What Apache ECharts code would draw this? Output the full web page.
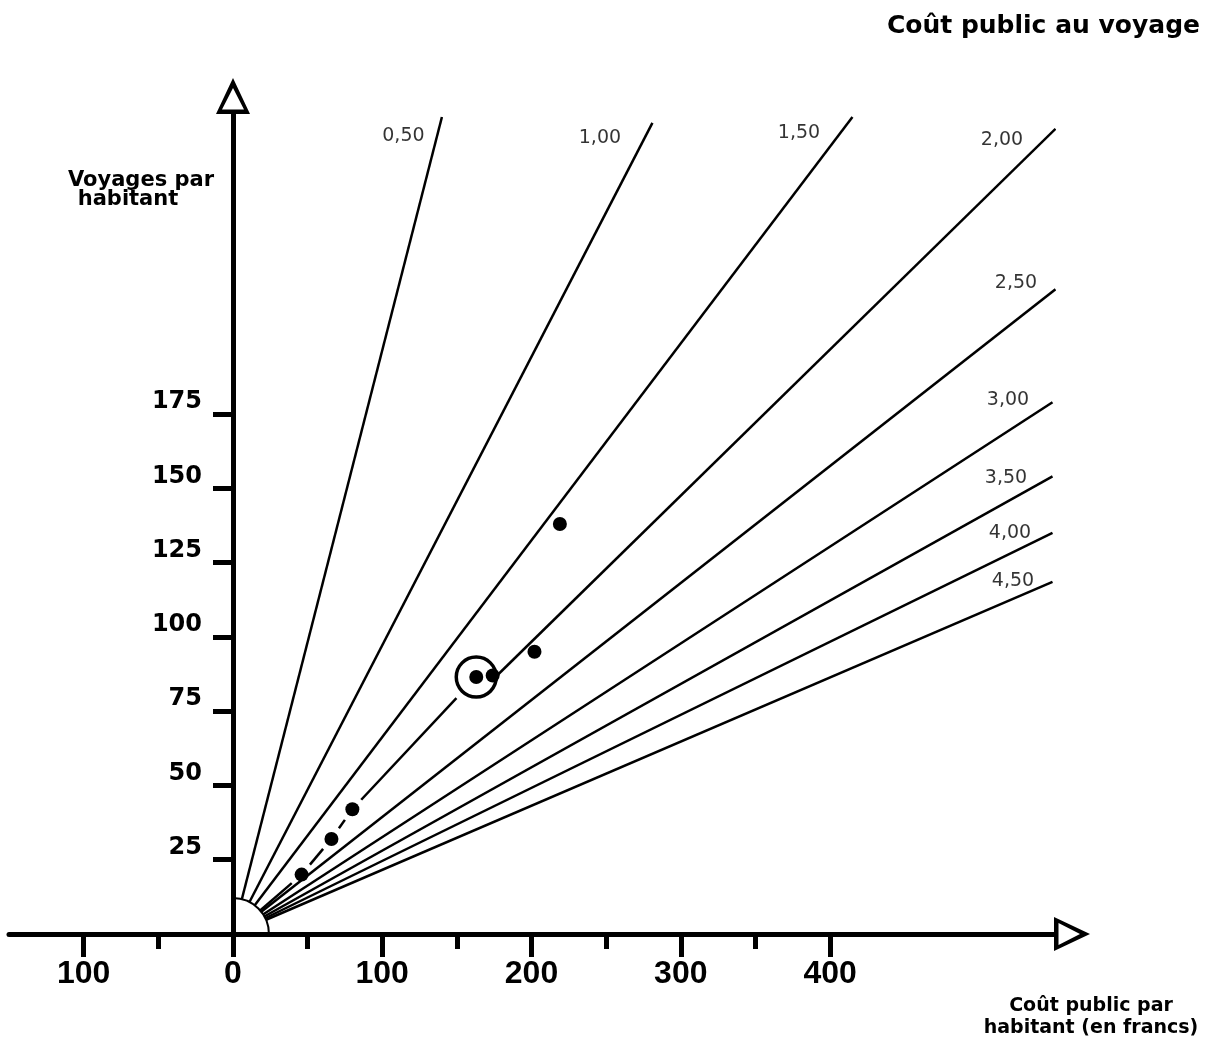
<!DOCTYPE html>
<html><head><meta charset="utf-8">
<script src="https://cdn.jsdelivr.net/npm/echarts@6/dist/echarts.min.js"></script>
<style>html,body{margin:0;padding:0;background:#fff}#c{width:1219px;height:1042px}</style>
</head><body><div id="c"></div>
<script>
// ---- data ----
const costLabels = ['0,50', '1,00', '1,50', '2,00', '2,50', '3,00', '3,50', '4,00', '4,50'];
const lineEndX = [140, 281, 415, 551, 551, 549, 549, 549, 549];
const lineEndY = [275, 273, 275, 271, 217, 179, 154, 135, 118.5];
const pointX = [46, 66, 80, 163, 174, 202, 219];
const pointY = [20, 32, 42, 86.5, 87, 95, 138];
const circledIndex = 3;        // the ringed town
const brokenLineIndex = 3;     // the 2,00 line is broken (dashes through the points) below the ring
const xMajorTicks = [-100, 0, 100, 200, 300, 400];
const xMinorTicks = [-50, 50, 150, 250, 350];
const yTicks = [25, 50, 75, 100, 125, 150, 175];

// ---- styling ----
const labelOffsets = [[-38, 20], [-52, 16], [-53, 17], [-53, 12], [-39, -6], [-44, -2], [-46, 2], [-42, 1], [-39, 0]];
const ARROW = 'path://M17,0 L34,36 L0,36 Z M17,10 L6,31.5 L28,31.5 Z';
const BOLD = '"DejaVu Sans", sans-serif';
const RING = 40, DOT = 14;

const chart = echarts.init(document.getElementById('c'), null, {renderer: 'canvas'});

const series = [];
costLabels.forEach(function (lab, i) {
  let data = [[0, 0], [lineEndX[i], lineEndY[i]]];
  if (i === brokenLineIndex) {
    // solid part starts where the line leaves the ring
    const sx = pointX[circledIndex + 1];
    data = [[sx, sx * lineEndY[i] / lineEndX[i]], [lineEndX[i], lineEndY[i]]];
  }
  series.push({
    type: 'line', name: lab, silent: true, symbol: 'none', z: 2, clip: false,
    lineStyle: {color: '#000', width: 2.5},
    data: data
  });
});
// broken part: dashes joining origin -> points -> ring
const chain = [[0, 0]].concat(pointX.slice(0, circledIndex + 1).map(function (x, i) { return [x, pointY[i]]; }));
series.push({
  type: 'custom', silent: true, z: 2, clip: false,
  data: chain,
  renderItem: function (params, api) {
    const i = params.dataIndex;
    if (i === 0) return null;
    const a = api.coord(chain[i - 1]);
    const b = api.coord(chain[i]);
    const dx = b[0] - a[0], dy = b[1] - a[1];
    const len = Math.sqrt(dx * dx + dy * dy);
    const ux = dx / len, uy = dy / len;
    const ta = i - 1 === 0 ? 0 : 13;
    const tb = i === chain.length - 1 ? 29 : 13;
    return {
      type: 'line',
      shape: {x1: a[0] + ux * ta, y1: a[1] + uy * ta, x2: b[0] - ux * tb, y2: b[1] - uy * tb},
      style: {stroke: '#000', lineWidth: 2.5}
    };
  }
});
series.push({
  type: 'scatter', silent: true, symbolSize: 1, z: 2, clip: false,
  itemStyle: {color: 'rgba(0,0,0,0)'},
  labelLayout: {hideOverlap: false},
  data: costLabels.map(function (lab, i) {
    return {
      value: [lineEndX[i], lineEndY[i]],
      label: {show: true, position: labelOffsets[i], align: 'center', verticalAlign: 'middle', formatter: lab,
        color: '#000', fontFamily: '"DejaVu Sans", sans-serif', fontSize: 19}
    };
  })
});
// quarter disc at the origin
series.push({
  type: 'custom', silent: true, z: 3, clip: false,
  data: [[0, 0]],
  renderItem: function (params, api) {
    const c = api.coord([api.value(0), api.value(1)]);
    return {
      type: 'sector',
      shape: {cx: c[0], cy: c[1], r0: 0, r: 36, startAngle: -Math.PI / 2, endAngle: 0},
      style: {fill: '#fff', stroke: '#000', lineWidth: 2}
    };
  }
});
// ring round the highlighted point
series.push({
  type: 'scatter', silent: true, z: 4, symbol: 'circle', symbolSize: RING,
  itemStyle: {color: '#fff', borderColor: '#000', borderWidth: 3.5, opacity: 1},
  data: [[pointX[circledIndex], pointY[circledIndex]]]
});
series.push({
  type: 'scatter', silent: true, z: 5, symbol: 'circle', symbolSize: DOT,
  itemStyle: {color: '#000', opacity: 1},
  data: pointX.map(function (x, i) { return [x, pointY[i]]; })
});

const option = {
  backgroundColor: '#fff',
  animation: false,
  grid: {left: 9, right: 165, top: 114, bottom: 108, containLabel: false, outerBoundsMode: 'none'},
  xAxis: [{
    type: 'value', min: -150, max: 550, position: 'bottom', z: 10,
    axisLine: {show: true, onZero: true, lineStyle: {color: '#000', width: 5, cap: 'round'},
      symbol: ['none', ARROW], symbolSize: [34, 36], symbolOffset: [0, 18]},
    axisTick: {show: true, customValues: xMajorTicks, length: 23, lineStyle: {color: '#000', width: 5}},
    axisLabel: {show: true, customValues: xMajorTicks, margin: 24, formatter: function (v) { return String(Math.abs(v)); },
      color: '#000', fontFamily: '"Liberation Sans", sans-serif', fontWeight: 'bold', fontSize: 32},
    splitLine: {show: false}
  }, {
    type: 'value', min: -150, max: 550, position: 'bottom', z: 10,
    axisLine: {show: false},
    axisTick: {show: true, customValues: xMinorTicks, length: 15, lineStyle: {color: '#000', width: 5}},
    axisLabel: {show: false},
    splitLine: {show: false}
  }],
  yAxis: {
    type: 'value', min: 0, max: 276, z: 10, position: 'left', offset: -224,
    axisLine: {show: true, onZero: false, lineStyle: {color: '#000', width: 5},
      symbol: ['none', ARROW], symbolSize: [34, 36], symbolOffset: [0, 18]},
    axisTick: {show: true, customValues: yTicks, length: 20, lineStyle: {color: '#000', width: 5}},
    axisLabel: {show: true, customValues: yTicks, margin: 31, verticalAlign: 'bottom',
      color: '#000', fontFamily: BOLD, fontWeight: 'bold', fontSize: 24},
    splitLine: {show: false}
  },
  graphic: [
    {type: 'text', x: 1200, y: 26, silent: true,
      style: {text: 'Coût public au voyage', font: 'bold 25px "DejaVu Sans"', fill: '#000', textAlign: 'right', textVerticalAlign: 'middle'}},
    {type: 'text', x: 141, y: 181, silent: true,
      style: {text: 'Voyages par', font: 'bold 21px "DejaVu Sans"', fill: '#000', textAlign: 'center', textVerticalAlign: 'middle'}},
    {type: 'text', x: 128, y: 200, silent: true,
      style: {text: 'habitant', font: 'bold 21px "DejaVu Sans"', fill: '#000', textAlign: 'center', textVerticalAlign: 'middle'}},
    {type: 'text', x: 1091, y: 1006, silent: true,
      style: {text: 'Coût public par', font: 'bold 19px "DejaVu Sans"', fill: '#000', textAlign: 'center', textVerticalAlign: 'middle'}},
    {type: 'text', x: 1091, y: 1028, silent: true,
      style: {text: 'habitant (en francs)', font: 'bold 19px "DejaVu Sans"', fill: '#000', textAlign: 'center', textVerticalAlign: 'middle'}}
  ],
  series: series
};
chart.setOption(option);
</script>
</body></html>
